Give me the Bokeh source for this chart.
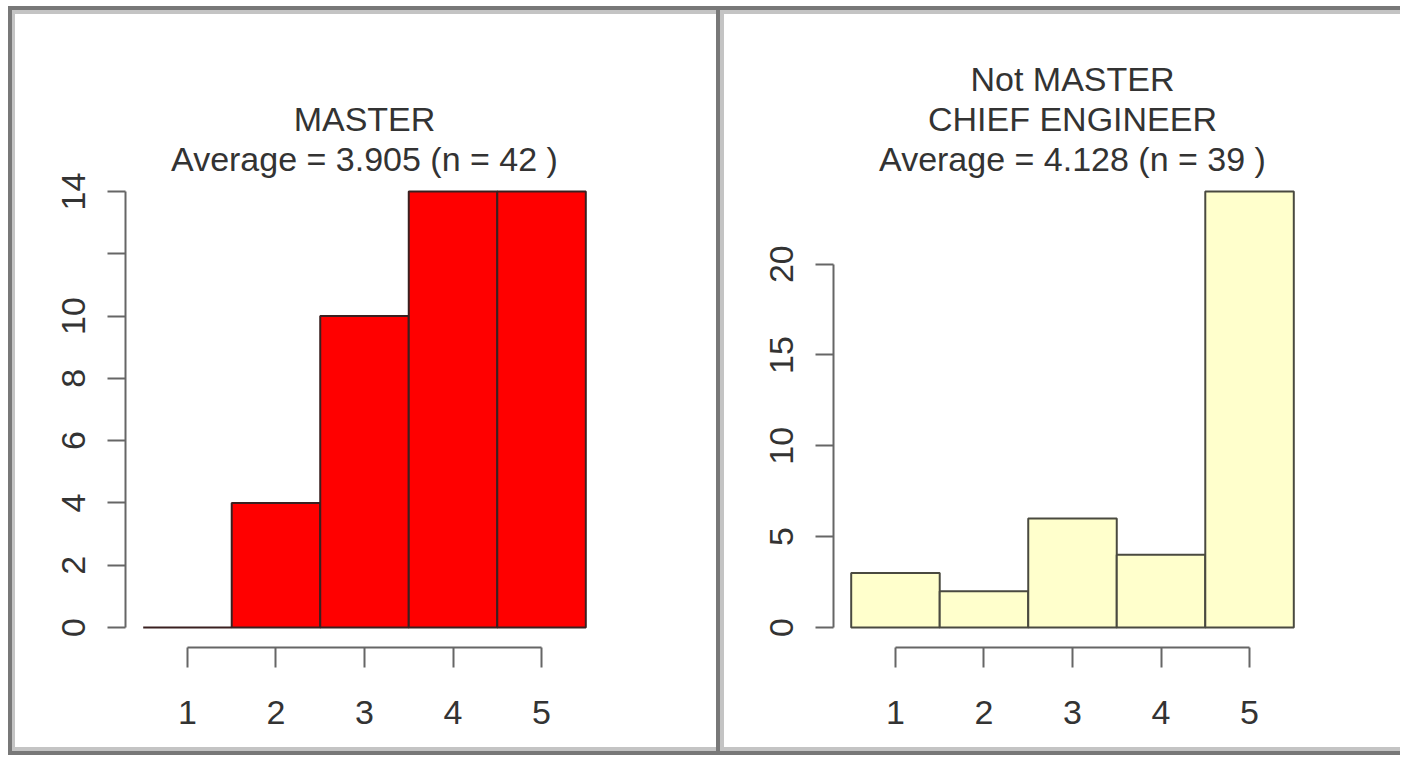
from bokeh.plotting import figure
from bokeh.models import Range1d, FixedTicker, Label
from bokeh.layouts import row
from bokeh.embed import file_html
from bokeh.resources import INLINE

# ---- data ----
categories = [1, 2, 3, 4, 5]
x_tick_labels = ["1", "2", "3", "4", "5"]

master_counts = [0, 4, 10, 14, 14]
master_title = ["MASTER"]
master_yticks = [0, 2, 4, 6, 8, 10, 12, 14]
master_ytick_labels = ["0", "2", "4", "6", "8", "10", "", "14"]

chief_counts = [3, 2, 6, 4, 24]
chief_title = ["Not MASTER", "CHIEF ENGINEER"]
chief_yticks = [0, 5, 10, 15, 20]
chief_ytick_labels = ["0", "5", "10", "15", "20"]

FONT = "Liberation Sans"
FSIZE = "34px"
TXT = "#333333"
AX = "#666666"
DARK = "#787878"
LIGHT = "#c4c4c4"
H = 755
FRAME_BOTTOM = 108


def make_panel(counts, title_lines, yticks, ylabels, fill, edge, width, mleft, mright, shadows):
    ymax = max(counts)
    n = sum(counts)
    avg = sum(c * k for c, k in zip(categories, counts)) / n
    lines = title_lines + ["Average = %.3f (n = %d )" % (avg, n)]

    p = figure(width=width, height=H, output_backend="svg", toolbar_location=None,
               x_range=Range1d(categories[0] - 0.7, categories[-1] + 0.7),
               y_range=Range1d(-0.0459 * ymax, 1.438 * ymax),
               min_border_left=mleft, min_border_right=mright,
               min_border_top=0, min_border_bottom=FRAME_BOTTOM)
    p.outline_line_color = None
    p.grid.visible = False
    p.background_fill_color = None
    p.border_fill_color = None
    p.styles = {"background-color": "white", "box-shadow": shadows}

    p.vbar(x=categories, top=counts, bottom=0, width=1.0,
           fill_color=fill, line_color=edge, line_width=2)

    xa = p.xaxis[0]
    xa.ticker = FixedTicker(ticks=categories)
    xa.bounds = (categories[0], categories[-1])
    xa.major_label_overrides = {c: l for c, l in zip(categories, x_tick_labels)}
    ya = p.yaxis[0]
    ya.ticker = FixedTicker(ticks=yticks)
    ya.bounds = (yticks[0], yticks[-1])
    ya.major_label_overrides = {t: l for t, l in zip(yticks, ylabels)}
    ya.major_label_orientation = "vertical"
    for a, so in ((xa, 33), (ya, 22)):
        a.axis_line_color = AX
        a.axis_line_width = 2
        a.major_tick_line_color = AX
        a.major_tick_line_width = 2
        a.major_tick_in = 0
        a.major_tick_out = 20 if a is xa else 18
        a.minor_tick_line_color = None
        a.major_label_text_font = FONT
        a.major_label_text_font_size = FSIZE
        a.major_label_text_color = TXT
        a.major_label_standoff = so

    xc = sum(categories) / len(categories)
    for i, t in enumerate(reversed(lines)):
        p.add_layout(Label(x=xc, y=489 + 40 * i, x_units="data", y_units="screen",
                           text=t, text_align="center", text_baseline="alphabetic",
                           text_font=FONT, text_font_size=FSIZE,
                           text_color=TXT))
    return p


left_shadow = ", ".join([
    "inset 8px 0 0 white", "inset 0 6px 0 white",
    f"inset 12px 0 0 {DARK}", f"inset 0 10px 0 {DARK}",
    f"inset -4px 0 0 {DARK}", f"inset 0 -4px 0 {DARK}",
    f"inset 15px 0 0 {LIGHT}", f"inset 0 14px 0 {LIGHT}", f"inset 0 -8px 0 {LIGHT}",
])
right_shadow = ", ".join([
    "inset 0 6px 0 white",
    f"inset 0 10px 0 {DARK}", f"inset 0 -4px 0 {DARK}",
    f"inset 4px 0 0 {LIGHT}", f"inset 0 14px 0 {LIGHT}", f"inset 0 -8px 0 {LIGHT}",
])

p1 = make_panel(master_counts, master_title, master_yticks, master_ytick_labels,
                "#FF0000", "#3a2020", 720, 125, 117, left_shadow)
p2 = make_panel(chief_counts, chief_title, chief_yticks, chief_ytick_labels,
                "#FFFFCC", "#4a4a40", 680, 113, 89, right_shadow)

layout = row(p1, p2, spacing=0)
open("out.html", "w").write(file_html(layout, INLINE))
